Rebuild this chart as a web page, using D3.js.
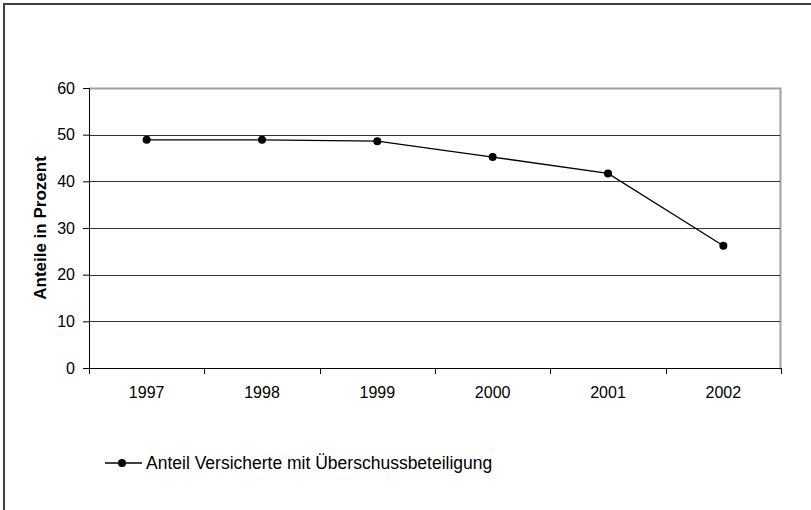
<!DOCTYPE html>
<html>
<head>
<meta charset="utf-8">
<script src="https://cdn.jsdelivr.net/npm/d3@7"></script>
<style>
  body { margin: 0; background: #fff; }
  text { font-family: "Liberation Sans", Arial, sans-serif; }
</style>
</head>
<body>
<div id="chart"></div>
<script>
// data
var years = ["1997", "1998", "1999", "2000", "2001", "2002"];
var anteil = [48.9, 48.9, 48.6, 45.2, 41.7, 26.2];
var yTicks = [0, 10, 20, 30, 40, 50, 60];
var seriesName = "Anteil Versicherte mit Überschussbeteiligung";
var yTitle = "Anteile in Prozent";

var W = 811, H = 510;
var margin = {top: 88, right: 30, bottom: 142, left: 89},
    width = W - margin.left - margin.right,
    height = H - margin.top - margin.bottom;

var svg = d3.select("#chart")
    .append("svg")
    .attr("width", W)
    .attr("height", H);

// outer chart frame (runs off the right and bottom edge)
svg.append("rect")
    .attr("x", 4).attr("y", 4)
    .attr("width", W + 10).attr("height", H + 10)
    .attr("fill", "none")
    .attr("stroke", "#404040")
    .attr("stroke-width", 2);

var canvas = svg.append("g")
    .attr("transform", "translate(" + margin.left + "," + margin.top + ")");

var scale_x = d3.scaleBand()
    .domain(years)
    .range([0, width]);

var scale_y = d3.scaleLinear()
    .domain([0, 60])
    .range([height, 0]);

// plot area border (grey top and right)
canvas.append("path")
    .attr("d", "M0,0.5H" + (width - 0.5) + "V" + height)
    .attr("fill", "none")
    .attr("stroke", "#a0a0a0")
    .attr("stroke-width", 2);

// gridlines
canvas.append("g")
    .selectAll("line")
    .data(yTicks.filter(function(d) { return d > 0 && d < 60; }))
    .enter()
    .append("line")
    .attr("x1", 0).attr("x2", width - 1)
    .attr("y1", function(d) { return Math.round(scale_y(d)) + 0.5; })
    .attr("y2", function(d) { return Math.round(scale_y(d)) + 0.5; })
    .attr("stroke", "#333")
    .attr("stroke-width", 1);

// y axis
var yAxis = canvas.append("g")
    .call(d3.axisLeft(scale_y).tickValues(yTicks).tickSize(6).tickPadding(8));
yAxis.select(".domain").attr("stroke", "#000");
yAxis.selectAll("text")
    .attr("font-size", 16)
    .attr("fill", "#000")
    .style("font-family", "Liberation Sans, Arial, sans-serif");

// x axis, ticks between categories
var xAxis = canvas.append("g")
    .attr("transform", "translate(0," + height + ")");
xAxis.append("line")
    .attr("x1", 0).attr("x2", width)
    .attr("y1", 0.5).attr("y2", 0.5)
    .attr("stroke", "#000");
xAxis.selectAll(".tk")
    .data(years.concat(["end"]))
    .enter()
    .append("line")
    .attr("class", "tk")
    .attr("x1", function(d, i) { return Math.round(i * scale_x.bandwidth()) + 0.5; })
    .attr("x2", function(d, i) { return Math.round(i * scale_x.bandwidth()) + 0.5; })
    .attr("y1", 0).attr("y2", 6)
    .attr("stroke", "#000");
xAxis.selectAll(".lbl")
    .data(years)
    .enter()
    .append("text")
    .attr("class", "lbl")
    .attr("x", function(d) { return scale_x(d) + scale_x.bandwidth() / 2; })
    .attr("y", 30)
    .attr("text-anchor", "middle")
    .attr("font-size", 16)
    .text(function(d) { return d; });

// axis title
svg.append("text")
    .attr("transform", "translate(46," + (margin.top + height / 2) + ") rotate(-90)")
    .attr("text-anchor", "middle")
    .attr("font-size", 17)
    .attr("font-weight", "bold")
    .text(yTitle);

// series
var pts = years.map(function(y, i) { return {year: y, value: anteil[i]}; });
var line = d3.line()
    .x(function(d) { return scale_x(d.year) + scale_x.bandwidth() / 2; })
    .y(function(d) { return scale_y(d.value); });

canvas.append("path")
    .datum(pts)
    .attr("d", line)
    .attr("fill", "none")
    .attr("stroke", "#000")
    .attr("stroke-width", 1.3);

canvas.append("g")
    .selectAll("circle")
    .data(pts)
    .enter()
    .append("circle")
    .attr("cx", function(d) { return scale_x(d.year) + scale_x.bandwidth() / 2; })
    .attr("cy", function(d) { return scale_y(d.value); })
    .attr("r", 4)
    .attr("fill", "#000");

// legend
var legend = svg.append("g")
    .attr("transform", "translate(105,463)");
legend.append("line")
    .attr("x1", 0).attr("x2", 37)
    .attr("y1", 0).attr("y2", 0)
    .attr("stroke", "#000")
    .attr("stroke-width", 1.3);
legend.append("circle")
    .attr("cx", 17).attr("cy", 0).attr("r", 4)
    .attr("fill", "#000");
legend.append("text")
    .attr("x", 41).attr("y", 6)
    .attr("font-size", 17.5)
    .text(seriesName);
</script>
</body>
</html>
